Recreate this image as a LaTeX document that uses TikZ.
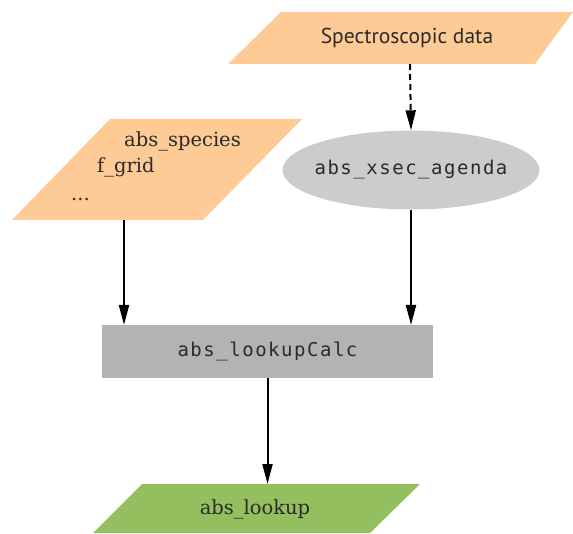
\documentclass[tikz,border=0pt]{standalone}
\usepackage{fontspec}
\setmainfont{DejaVu Serif}
\newfontfamily\specsans{PT Sans}
\newfontfamily\specmono[LetterSpace=8]{DejaVu Sans Mono}
\usetikzlibrary{shapes.geometric,arrows.meta}
\definecolor{inorange}{HTML}{FECB96}
\definecolor{agray}{HTML}{CCCCCC}
\definecolor{mgray}{HTML}{B3B3B3}
\definecolor{outgreen}{HTML}{93BF5E}
\definecolor{txt}{HTML}{2A2A2A}
\tikzset{
  conn/.style={draw=black, line width=2pt, -{Triangle[length=20pt,width=10pt]}},
  serifT/.style={text=txt, font=\fontsize{19.5}{23}\selectfont, inner sep=0pt},
  sansT/.style={text=txt, font=\specsans\fontsize{21.5}{25}\selectfont, inner sep=0pt},
  monoT/.style={text=txt, font=\specmono\fontsize{19}{22}\selectfont, inner sep=0pt},
}
\begin{document}
\begin{tikzpicture}[x=1pt,y=-1pt]
\useasboundingbox (0,0) rectangle (573,534);
% Spectroscopic data
\fill[inorange] (281,12) -- (573,12) -- (535,64) -- (228,64) -- cycle;
\node[sansT] (spec) at (407,38) {Spectroscopic data};
\coordinate (specb) at (410,64);
% left input
\fill[inorange] (110,119) -- (302,119) -- (203,220) -- (12,220) -- cycle;
\node[serifT, anchor=base west] (sp) at (124,147) {abs\_species};
\node[serifT, anchor=base west] (fg) at (97,173) {f\_grid};
\node[serifT, anchor=base west] (dots) at (71,201) {...};
\coordinate (leftb) at (124,220);
% agenda
\node[ellipse, fill=agray, minimum width=257pt, minimum height=79pt, inner sep=0pt] (xsec) at (411,170) {};
\node[monoT] (xsectxt) at (xsec.center) {abs\_xsec\_agenda};
% method
\node[rectangle, fill=mgray, minimum width=331pt, minimum height=53pt, monoT] (calc) at (267.5,351.5) {abs\_lookupCalc};
\coordinate (calcl) at (124,325);
\coordinate (calcr) at (411,325);
% output
\fill[outgreen] (142,484) -- (420,484) -- (370,533) -- (93,533) -- cycle;
\node[serifT] (out) at (255,509) {abs\_lookup};
\coordinate (outt) at (267.5,484);
% connectors
\draw[conn, dash pattern=on 6pt off 4pt] (specb) -- (xsec.north);
\draw[conn] (leftb) -- (calcl);
\draw[conn] (xsec.south) -- (calcr);
\draw[conn] (calc.south) -- (outt);
\end{tikzpicture}
\end{document}
